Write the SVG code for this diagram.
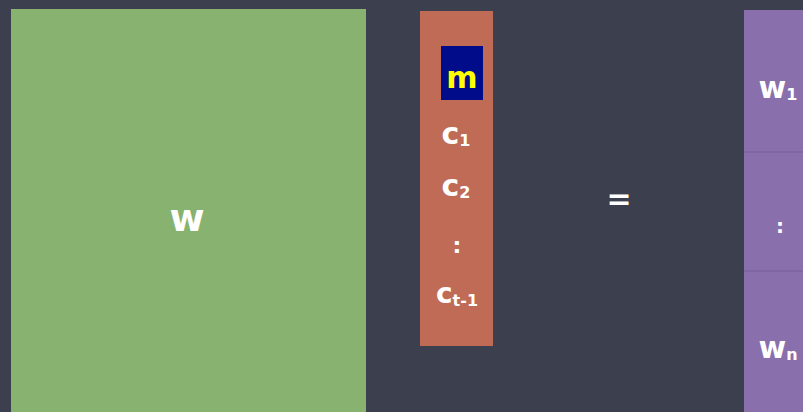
<svg xmlns="http://www.w3.org/2000/svg" width="803" height="412" viewBox="0 0 803 412">
<style>
.t{font-family:"DejaVu Sans","Noto Sans",sans-serif;font-weight:bold;fill:#ffffff;text-anchor:middle}
.s{font-size:16px}
</style>
<rect width="803" height="412" fill="#3b3f4e"/>
<g id="W">
<rect x="11" y="9" width="355" height="403" fill="#88b26f"/>
<text class="t" x="187" y="231" font-size="38">w</text>
</g>
<g id="vector">
<rect x="420" y="11" width="73" height="335" fill="#bf6b55"/>
<rect x="441" y="46" width="42" height="54" fill="#000c8a"/>
<text class="t" x="462" y="88" font-size="30" style="fill:#ffff00">m</text>
<text class="t" x="456" y="144" font-size="30">c<tspan class="s" dy="2">1</tspan></text>
<text class="t" x="456" y="196" font-size="30">c<tspan class="s" dy="2">2</tspan></text>
<text class="t" x="457" y="253" font-size="22">:</text>
<text class="t" x="457" y="303" font-size="28">c<tspan class="s" dy="3">t-1</tspan></text>
</g>
<g id="equals">
<text class="t" x="619" y="209" font-size="30">=</text>
</g>
<g id="result">
<rect x="744" y="10" width="59" height="402" fill="#8a6fad"/>
<line x1="744" y1="152" x2="803" y2="152" stroke="#75609a" stroke-width="1"/>
<line x1="744" y1="271" x2="803" y2="271" stroke="#75609a" stroke-width="1"/>
<text class="t" x="778" y="98" font-size="30">w<tspan class="s" dy="2">1</tspan></text>
<text class="t" x="780" y="233" font-size="20">:</text>
<text class="t" x="778" y="358" font-size="30">w<tspan class="s" dy="2">n</tspan></text>
</g>
<g id="connectors"/>
</svg>
